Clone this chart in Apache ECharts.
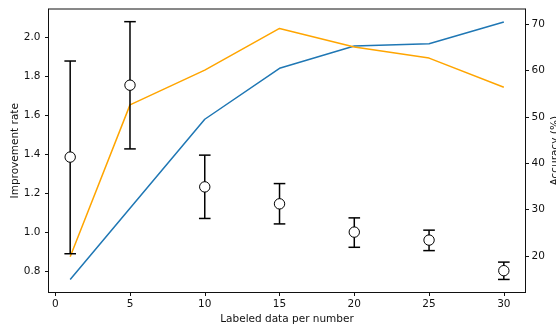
<!DOCTYPE html>
<html>
<head>
<meta charset="utf-8">
<script src="https://cdn.jsdelivr.net/npm/echarts@6/dist/echarts.min.js"></script>
<style>
  html, body { margin: 0; padding: 0; background: #fff; }
  #chart { width: 556px; height: 325px; }
</style>
</head>
<body>
<div id="chart"></div>
<script>
// data
const xs = [1, 5, 10, 15, 20, 25, 30];
const rateMean = [1.387, 1.756, 1.234, 1.147, 1.002, 0.961, 0.804];
const rateLow = [0.891, 1.429, 1.072, 1.044, 0.924, 0.907, 0.759];
const rateHigh = [1.880, 2.082, 1.397, 1.251, 1.075, 1.012, 0.848];
const accBlue = [14.9, 30.3, 49.5, 60.5, 65.3, 65.8, 70.5];
const accOrange = [19.8, 52.6, 60.1, 69.1, 65.1, 62.7, 56.4];
const xTicks = [0, 5, 10, 15, 20, 25, 30];
const rateTicks = [0.8, 1.0, 1.2, 1.4, 1.6, 1.8, 2.0];
const accTicks = [20, 30, 40, 50, 60, 70];

const FONT = 'DejaVu Sans';
const INK = '#111';

const chart = echarts.init(document.getElementById('chart'), null, { renderer: 'canvas' });

// shared look for the axes
const tickStyle = { show: true, inside: false, length: 3.5, lineStyle: { color: INK, width: 1 } };
const labelStyle = { color: INK, fontSize: 10.5, fontFamily: FONT };
const nameStyle = { color: INK, fontSize: 10.5, fontFamily: FONT };
const lineStyle = { show: true, onZero: false, lineStyle: { color: INK, width: 1 } };

const errData = xs.map((x, i) => [x, rateLow[i], rateHigh[i], rateMean[i]]);

const option = {
    animation: false,
    backgroundColor: '#fff',
    grid: {
        left: 48.5, right: 30.5, top: 9, bottom: 32.5,
        containLabel: false, outerBoundsMode: 'none',
        show: true, borderColor: INK, borderWidth: 1, backgroundColor: 'transparent'
    },
    xAxis: {
        type: 'value', min: -0.45, max: 31.45,
        name: 'Labeled data per number', nameLocation: 'middle', nameGap: 21, nameMoveOverlap: false,
        nameTextStyle: nameStyle,
        axisLine: lineStyle,
        axisTick: { ...tickStyle, customValues: xTicks },
        axisLabel: { ...labelStyle, margin: 6, customValues: xTicks, formatter: v => String(v) },
        splitLine: { show: false }
    },
    yAxis: [
        {
            type: 'value', position: 'left', min: 0.692, max: 2.147,
            name: 'Improvement rate', nameLocation: 'middle', nameGap: 28, nameRotate: 90, nameMoveOverlap: false,
            nameTextStyle: nameStyle,
            axisLine: lineStyle,
            axisTick: { ...tickStyle, customValues: rateTicks },
            axisLabel: { ...labelStyle, margin: 8, customValues: rateTicks, formatter: v => v.toFixed(1) },
            splitLine: { show: false }
        },
        {
            type: 'value', position: 'right', min: 12.1, max: 73.3,
            name: 'Accuracy (%)', nameLocation: 'middle', nameGap: 24, nameRotate: 90, nameMoveOverlap: false,
            nameTextStyle: nameStyle,
            axisLine: lineStyle,
            axisTick: { ...tickStyle, customValues: accTicks },
            axisLabel: { ...labelStyle, margin: 6, customValues: accTicks, formatter: v => String(v) },
            splitLine: { show: false }
        }
    ],
    series: [
        {
            type: 'line', name: 'blue', yAxisIndex: 1, z: 2,
            data: xs.map((x, i) => [x, accBlue[i]]),
            showSymbol: false, symbol: 'none',
            lineStyle: { color: '#1f77b4', width: 1.5 }
        },
        {
            type: 'line', name: 'orange', yAxisIndex: 1, z: 2,
            data: xs.map((x, i) => [x, accOrange[i]]),
            showSymbol: false, symbol: 'none',
            lineStyle: { color: '#ffa500', width: 1.5 }
        },
        {
            // error bars with hollow circle for the mean
            type: 'custom', name: 'rate', yAxisIndex: 0, z: 5,
            data: errData,
            encode: { x: 0, y: [1, 2, 3] },
            renderItem: (params, api) => {
                const x = api.value(0);
                const lo = api.coord([x, api.value(1)]);
                const hi = api.coord([x, api.value(2)]);
                const mid = api.coord([x, api.value(3)]);
                const cap = 5.8;
                const st = { stroke: '#000', lineWidth: 1.5 };
                return {
                    type: 'group',
                    children: [
                        { type: 'line', shape: { x1: lo[0], y1: lo[1], x2: hi[0], y2: hi[1] }, style: st },
                        { type: 'line', shape: { x1: hi[0] - cap, y1: hi[1], x2: hi[0] + cap, y2: hi[1] }, style: st },
                        { type: 'line', shape: { x1: lo[0] - cap, y1: lo[1], x2: lo[0] + cap, y2: lo[1] }, style: st },
                        { type: 'circle', shape: { cx: mid[0], cy: mid[1], r: 5.2 }, style: { fill: '#fff', stroke: '#000', lineWidth: 1 } }
                    ]
                };
            }
        }
    ]
};

chart.setOption(option);
</script>
</body>
</html>
